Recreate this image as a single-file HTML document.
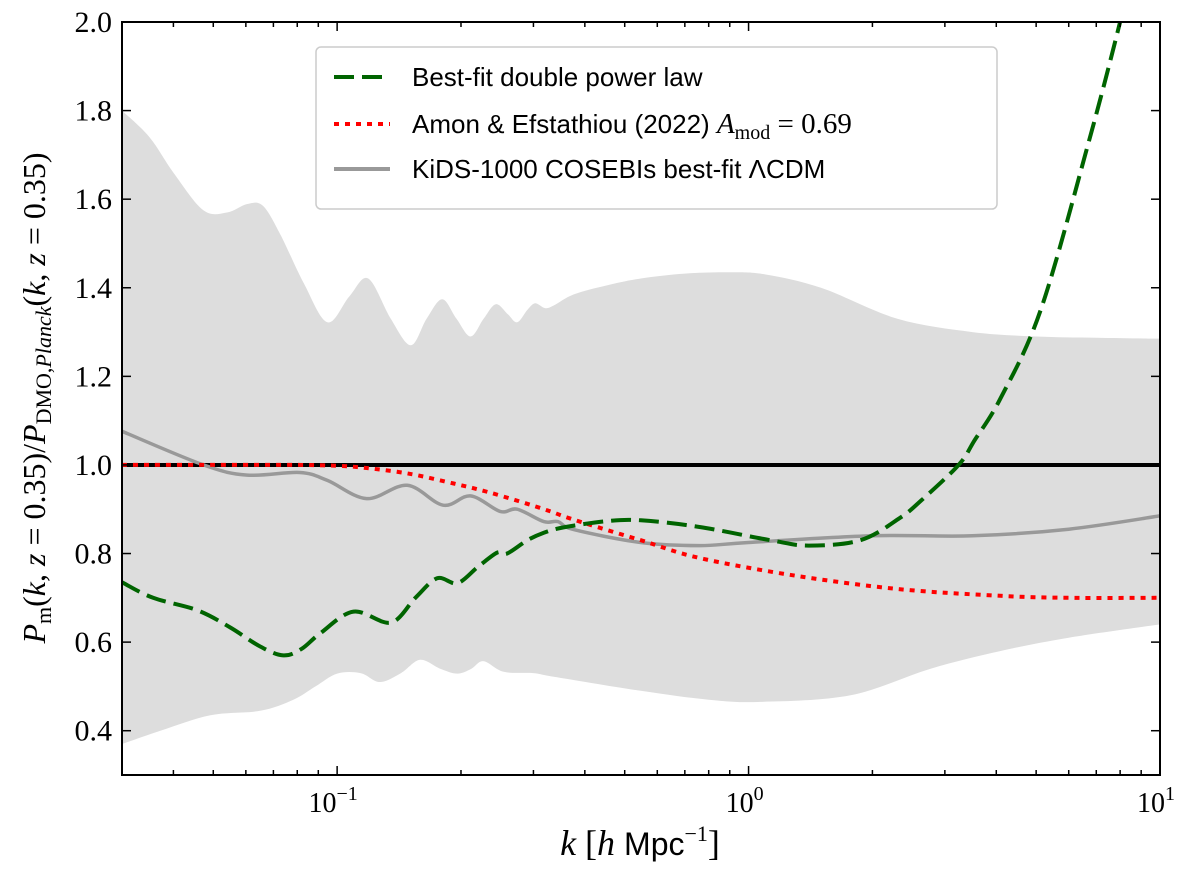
<!DOCTYPE html>
<html><head><meta charset="utf-8"><style>
html,body{margin:0;padding:0;background:#fff;}
svg{display:block;font-family:"Liberation Serif",serif;}
</style></head><body>
<svg id="chart" width="1200" height="880" viewBox="0 0 1200 880" xmlns="http://www.w3.org/2000/svg">
<defs><clipPath id="plotclip"><rect x="122" y="22" width="1038" height="753"/></clipPath></defs>
<g id="plot" clip-path="url(#plotclip)"></g>
<rect x="122" y="22" width="1038" height="753" fill="none" stroke="#000" stroke-width="2"/>
<g id="ticks"></g>
<g>
<rect x="316" y="47" width="681" height="162" rx="5" fill="#fff" fill-opacity="0.85" stroke="#ccc" stroke-width="1.5"/>
<line x1="334" y1="77" x2="390" y2="77" stroke="#006400" stroke-width="4" stroke-dasharray="20 8"/>
<text x="412" y="86" font-family="Liberation Sans, sans-serif" font-size="26">Best-fit double power law</text>
<line x1="334" y1="124" x2="390" y2="124" stroke="#ff0000" stroke-width="4" stroke-dasharray="5 6"/>
<text x="412" y="133" font-family="Liberation Sans, sans-serif" font-size="26">Amon &amp; Efstathiou (2022) <tspan font-family="Liberation Serif, serif" font-style="italic" font-size="29">A</tspan><tspan font-family="Liberation Serif, serif" font-size="20" dy="6">mod</tspan><tspan font-family="Liberation Serif, serif" font-size="29" dy="-6"> = 0.69</tspan></text>
<line x1="334" y1="169" x2="390" y2="169" stroke="#999" stroke-width="4"/>
<text x="412" y="178" font-family="Liberation Sans, sans-serif" font-size="26">KiDS-1000 COSEBIs best-fit ΛCDM</text>
</g>
<text x="640" y="855" text-anchor="middle" font-size="36"><tspan font-style="italic">k</tspan> [<tspan font-style="italic">h</tspan> <tspan font-family="Liberation Sans, sans-serif" font-size="32">Mpc</tspan><tspan font-size="22" dy="-14">−1</tspan><tspan dy="14">]</tspan></text>
<text transform="translate(45,398) rotate(-90)" text-anchor="middle" font-size="32"><tspan font-style="italic">P</tspan><tspan font-size="22" dy="6">m</tspan><tspan dy="-6">(</tspan><tspan font-style="italic">k</tspan>, <tspan font-style="italic">z</tspan> = 0.35)/<tspan font-style="italic">P</tspan><tspan font-size="22" dy="6">DMO,</tspan><tspan font-size="22" font-style="italic">Planck</tspan><tspan dy="-6">(</tspan><tspan font-style="italic">k</tspan>, <tspan font-style="italic">z</tspan> = 0.35)</text>
</svg>
<script>
const bandUpperK = [0.03,0.035,0.04,0.0473,0.054,0.0605,0.066,0.0728,0.083,0.0947,0.107,0.119,0.135,0.151,0.165,0.180,0.195,0.211,0.227,0.243,0.26,0.274,0.29,0.303,0.32,0.336,0.376,0.45,0.547,0.7,0.9,1.1,1.5,2.3,3.5,5,7,10];
const bandUpperV = [1.80,1.74,1.66,1.575,1.57,1.589,1.585,1.52,1.41,1.322,1.38,1.421,1.33,1.27,1.33,1.374,1.33,1.29,1.33,1.363,1.34,1.322,1.35,1.365,1.354,1.36,1.385,1.405,1.421,1.432,1.435,1.43,1.40,1.33,1.30,1.29,1.287,1.285];
const bandLowerK = [0.03,0.0372,0.0492,0.065,0.0783,0.0886,0.1,0.114,0.127,0.143,0.159,0.178,0.196,0.212,0.227,0.254,0.3,0.336,0.547,0.8,1.07,1.77,2.77,4.1,6,10];
const bandLowerV = [0.37,0.40,0.435,0.445,0.47,0.50,0.529,0.53,0.51,0.53,0.56,0.54,0.529,0.54,0.557,0.533,0.53,0.522,0.49,0.47,0.465,0.48,0.54,0.58,0.61,0.64];
const dplK = [0.03,0.0357,0.0457,0.055,0.065,0.074,0.082,0.091,0.1096,0.135,0.155,0.175,0.196,0.22,0.245,0.259,0.29,0.318,0.355,0.45,0.547,0.76,1.13,1.4,1.87,2.33,2.63,3.24,3.54,4.11,5.13,6.67,8.0,9.0];
const dplV = [0.735,0.70,0.672,0.633,0.59,0.57,0.585,0.62,0.669,0.644,0.70,0.744,0.733,0.77,0.802,0.80,0.83,0.847,0.859,0.873,0.875,0.86,0.83,0.818,0.83,0.88,0.92,1.0,1.055,1.153,1.35,1.72,2.0,2.2];
const amonK = [0.03,0.05,0.08,0.1,0.118,0.15,0.192,0.23,0.279,0.33,0.38,0.547,0.76,1.3,2.3,4,6,10];
const amonV = [1.0,1.0,1.0,0.998,0.993,0.98,0.958,0.94,0.917,0.895,0.875,0.83,0.79,0.75,0.72,0.705,0.70,0.70];
const kidsK = [0.03,0.0473,0.0605,0.0811,0.0947,0.118,0.148,0.181,0.211,0.249,0.274,0.318,0.344,0.376,0.547,0.76,1.0,2.0,3.5,6,10];
const kidsV = [1.076,1.0,0.977,0.983,0.965,0.924,0.954,0.909,0.93,0.895,0.90,0.872,0.872,0.854,0.825,0.818,0.825,0.84,0.84,0.855,0.885];
const yTicks = [0.4,0.6,0.8,1.0,1.2,1.4,1.6,1.8,2.0];
const yTickLabels = ["0.4","0.6","0.8","1.0","1.2","1.4","1.6","1.8","2.0"];
const xMajor = [0.1,1,10];
const xMajorLabels = ["−1","0","1"];

const X0=122,X1=1160,Y0=22,Y1=775;
const kMin=0.03,kMax=10,vMin=0.3,vMax=2.0;
function xs(k){return X0+(Math.log10(k)-Math.log10(kMin))/(Math.log10(kMax)-Math.log10(kMin))*(X1-X0);}
function ys(v){return Y1-(v-vMin)/(vMax-vMin)*(Y1-Y0);}
const NS="http://www.w3.org/2000/svg";
function pts(K,V){return K.map((k,i)=>[xs(k),ys(V[i])]);}
function smooth(p){let d="M"+p[0][0].toFixed(1)+","+p[0][1].toFixed(1);
 for(let i=0;i<p.length-1;i++){const a=p[i-1]||p[i],b=p[i],c=p[i+1],e=p[i+2]||c;
  const c1=[b[0]+(c[0]-a[0])/6,b[1]+(c[1]-a[1])/6],c2=[c[0]-(e[0]-b[0])/6,c[1]-(e[1]-b[1])/6];
  d+=" C"+c1[0].toFixed(1)+","+c1[1].toFixed(1)+" "+c2[0].toFixed(1)+","+c2[1].toFixed(1)+" "+c[0].toFixed(1)+","+c[1].toFixed(1);}
 return d;}
const plot=document.getElementById('plot');
function mk(tag,attrs,parent){const el=document.createElementNS(NS,tag);for(const k in attrs)el.setAttribute(k,attrs[k]);(parent||plot).appendChild(el);return el;}

const up=pts(bandUpperK,bandUpperV), lo=pts(bandLowerK,bandLowerV).reverse();
let bd=smooth(up)+" L"+smooth(lo).slice(1)+" Z";
const band=mk('path',{d:bd,fill:'#dddddd',stroke:'none'});


const ref=mk('line',{x1:X0,x2:X1,y1:ys(1),y2:ys(1),stroke:'#000','stroke-width':4});


const kids=mk('path',{d:smooth(pts(kidsK,kidsV)),fill:'none',stroke:'#999','stroke-width':3.5});


const amon=mk('path',{d:smooth(pts(amonK,amonV)),fill:'none',stroke:'#ff0000','stroke-width':4,'stroke-dasharray':'5 6'});


const dpl=mk('path',{d:smooth(pts(dplK,dplV)),fill:'none',stroke:'#006400','stroke-width':4,'stroke-dasharray':'20 8'});



const tg=document.getElementById('ticks');
yTicks.forEach((v,i)=>{const y=ys(v);
 mk('line',{x1:X0,x2:X0+9,y1:y,y2:y,stroke:'#000','stroke-width':1.5},tg);
 mk('line',{x1:X1,x2:X1-9,y1:y,y2:y,stroke:'#000','stroke-width':1.5},tg);
 const t=mk('text',{x:112,y:y+10,'text-anchor':'end','font-size':30},tg);
 t.textContent=yTickLabels[i];
 
 
});
for(let e=-2;e<=0;e++)for(let m=1;m<=9;m++){const k=m*Math.pow(10,e);if(k<kMin||k>kMax)continue;
 const x=xs(k),L=(m===1)?9:5;
 mk('line',{x1:x,x2:x,y1:Y1,y2:Y1-L,stroke:'#000','stroke-width':1.5},tg);
 mk('line',{x1:x,x2:x,y1:Y0,y2:Y0+L,stroke:'#000','stroke-width':1.5},tg);}
xMajor.forEach((k,i)=>{const x=xs(k);
 const t=mk('text',{x:x-4,y:812,'text-anchor':'middle','font-size':28},tg);
 t.innerHTML='10<tspan font-size="20" dy="-12">'+xMajorLabels[i]+'</tspan>';
 
 
});
</script>
</body></html>
